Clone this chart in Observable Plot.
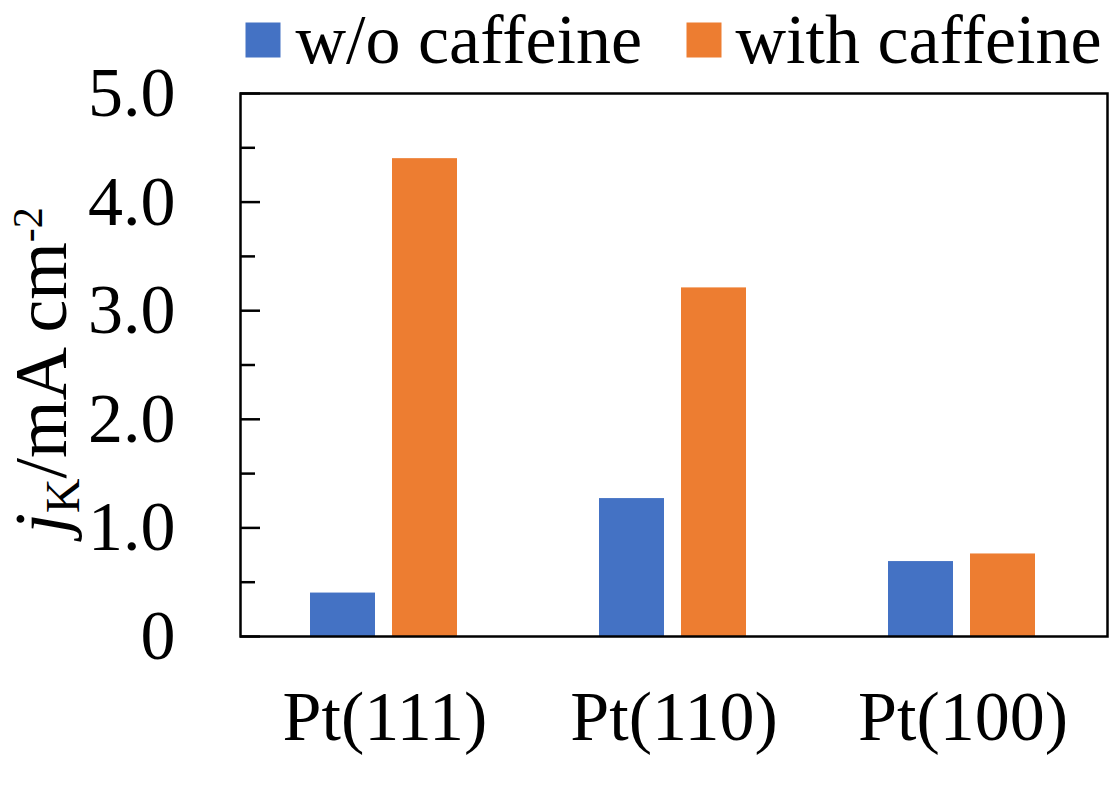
<!DOCTYPE html>
<html><head><meta charset="utf-8">
<script src="https://cdn.jsdelivr.net/npm/d3@7"></script>
<script src="https://cdn.jsdelivr.net/npm/@observablehq/plot@0.6"></script>
<style>
body{margin:0;background:#fff;}
#wrap{position:relative;width:1115px;height:791px;overflow:hidden;}
</style></head>
<body><div id="wrap"></div>
<script>
// ---- data ----
const categories = ["Pt(111)", "Pt(110)", "Pt(100)"];
const series = ["w/o caffeine", "with caffeine"];
const withoutCaffeine = [0.40, 1.27, 0.69];
const withCaffeine = [4.40, 3.21, 0.76];
const yTicks = [0, 1, 2, 3, 4, 5];
const yTickLabels = ["0", "1.0", "2.0", "3.0", "4.0", "5.0"];
const yMinorTicks = [0.5, 1.5, 2.5, 3.5, 4.5];
const seriesColors = ["#4472C4", "#ED7D31"];

const SERIF = "Liberation Serif";

const rows = [];
categories.forEach((c, i) => {
  rows.push({category: c, series: series[0], value: withoutCaffeine[i]});
  rows.push({category: c, series: series[1], value: withCaffeine[i]});
});

// legend entries drawn with Plot's own marks, anchored to the frame's top-left
const legendSwatch = (s, dx) => Plot.dot([s], {frameAnchor: "top-left", fill: d => d, symbol: "square", r: 19.75, dx, dy: -53.5});
const legendLabel = (s, dx) => Plot.text([s], {frameAnchor: "top-left", text: d => d, textAnchor: "start", lineAnchor: "middle", fontSize: 70, fill: "black", dx, dy: -52.5});

const plot = Plot.plot({
  width: 1115,
  height: 791,
  marginLeft: 240,
  marginRight: 8,
  marginTop: 93,
  marginBottom: 155,
  style: {fontFamily: SERIF, background: "white", color: "black"},
  x: {domain: categories, padding: 0, label: null},
  y: {domain: [0, 5], label: null},
  color: {domain: series, range: seriesColors},
  marks: [
    Plot.barY(rows.filter(d => d.series === series[0]), {x: "category", y: "value", fill: "series", insetLeft: 70, insetRight: 154}),
    Plot.barY(rows.filter(d => d.series === series[1]), {x: "category", y: "value", fill: "series", insetLeft: 152, insetRight: 72}),
    Plot.axisY(yTicks, {tickSize: -20, tickFormat: () => "", strokeWidth: 2.5, label: null}),
    Plot.axisY(yMinorTicks, {tickSize: -15, tickFormat: () => "", strokeWidth: 2.5, label: null}),
    Plot.axisY(yTicks, {tickSize: 0, tickPadding: 65, fontSize: 70, tickFormat: d => yTickLabels[yTicks.indexOf(d)], label: null}),
    Plot.axisX({tickSize: 0, tickPadding: 54, fontSize: 70, label: null}),
    Plot.frame({stroke: "black", strokeWidth: 2.5}),
    legendSwatch(series[0], 22.5),
    legendLabel(series[0], 55),
    legendSwatch(series[1], 463.5),
    legendLabel(series[1], 495)
  ]
});
const wrap = document.getElementById("wrap");
wrap.appendChild(plot);

// y axis title with italic j, subscript K, superscript -2
const ys = plot.scale("y");
const yc = (ys.range[0] + ys.range[1]) / 2 + 6;
const t = d3.select(plot).append("text")
  .attr("transform", `translate(66,${yc}) rotate(-90)`)
  .attr("text-anchor", "middle")
  .attr("font-size", 74)
  .attr("font-family", SERIF)
  .attr("fill", "black");
t.append("tspan").attr("font-style", "italic").text("j");
t.append("tspan").attr("font-size", 48).attr("dy", 13).text("K");
t.append("tspan").attr("dy", -13).text("/mA cm");
t.append("tspan").attr("font-size", 42).attr("dy", -24).text("-2");
</script>
</body></html>
